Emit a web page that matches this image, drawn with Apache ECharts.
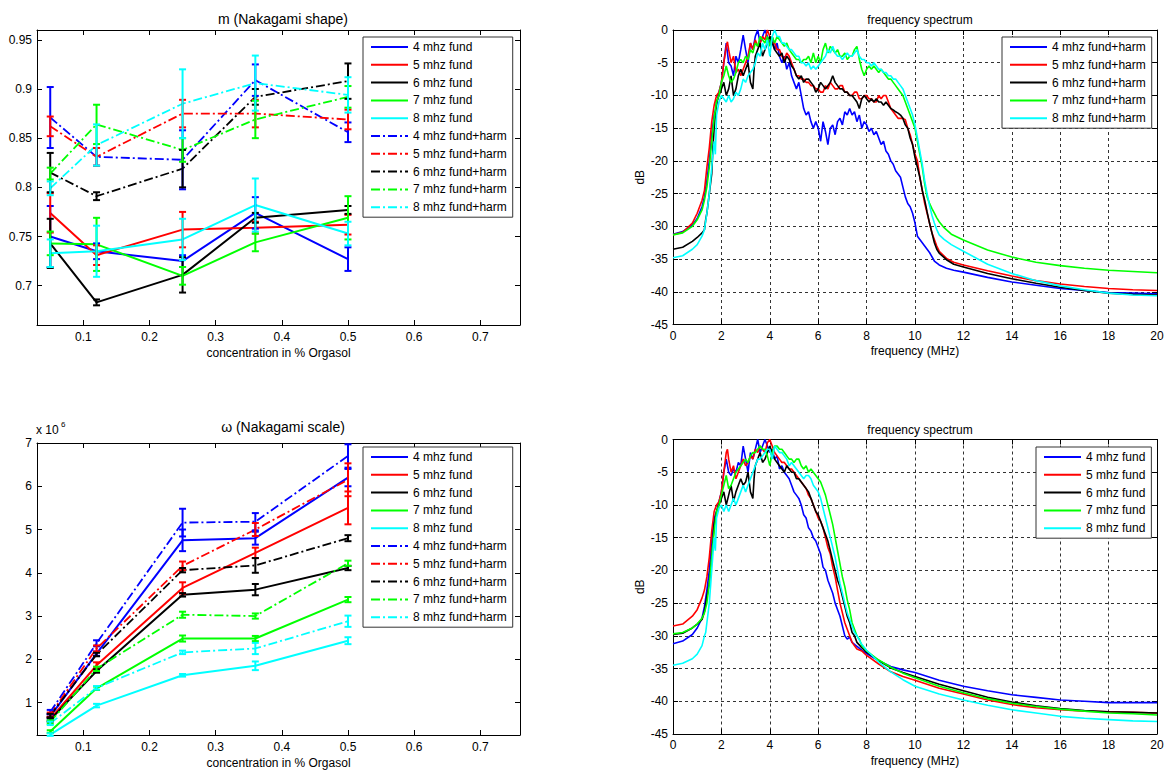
<!DOCTYPE html>
<html><head><meta charset="utf-8">
<script src="https://cdn.jsdelivr.net/npm/echarts@6/dist/echarts.min.js"></script>
<style>html,body{margin:0;padding:0;background:#fff}#c{width:1166px;height:770px}</style>
</head><body><div id="c"></div>
<script>
// ---------- DATA ----------
const conc = [0.05, 0.12, 0.25, 0.36, 0.5];
const concTicks = [0.1, 0.2, 0.3, 0.4, 0.5, 0.6, 0.7];
const mTicks = [0.7, 0.75, 0.8, 0.85, 0.9, 0.95];
const wTicks = [1, 2, 3, 4, 5, 6, 7];
const fundNames = ['4 mhz fund', '5 mhz fund', '6 mhz fund', '7 mhz fund', '8 mhz fund'];
const fhNames = ['4 mhz fund+harm', '5 mhz fund+harm', '6 mhz fund+harm', '7 mhz fund+harm', '8 mhz fund+harm'];

// m (Nakagami shape) values and error half-widths
const m4F = [0.750, 0.735, 0.725, 0.774, 0.727];  const m4FErr = [0.031, 0.008, 0.006, 0.016, 0.012];
const m5F = [0.774, 0.731, 0.757, 0.759, 0.762];  const m5FErr = [0.020, 0.010, 0.018, 0.006, 0.010];
const m6F = [0.743, 0.683, 0.711, 0.769, 0.777];  const m6FErr = [0.025, 0.003, 0.018, 0.005, 0.004];
const m7F = [0.743, 0.742, 0.710, 0.744, 0.769];  const m7FErr = [0.012, 0.027, 0.009, 0.009, 0.022];
const m8F = [0.733, 0.735, 0.747, 0.782, 0.753];  const m8FErr = [0.014, 0.026, 0.021, 0.027, 0.012];
const m4FH = [0.871, 0.831, 0.828, 0.909, 0.856]; const m4FHErr = [0.031, 0.009, 0.030, 0.016, 0.010];
const m5FH = [0.862, 0.831, 0.875, 0.875, 0.869]; const m5FHErr = [0.010, 0.009, 0.014, 0.014, 0.010];
const m6FH = [0.815, 0.791, 0.819, 0.892, 0.908]; const m6FHErr = [0.020, 0.004, 0.019, 0.008, 0.018];
const m7FH = [0.814, 0.864, 0.838, 0.869, 0.892]; const m7FHErr = [0.006, 0.020, 0.012, 0.019, 0.011];
const m8FH = [0.799, 0.843, 0.885, 0.906, 0.894]; const m8FHErr = [0.007, 0.021, 0.035, 0.028, 0.018];

// omega (Nakagami scale), x 10^6
const w4F = [0.68, 2.13, 4.75, 4.80, 6.20];  const w4FErr = [0.05, 0.05, 0.25, 0.15, 0.20];
const w5F = [0.62, 1.86, 3.65, 4.46, 5.50];  const w5FErr = [0.05, 0.07, 0.13, 0.12, 0.38];
const w6F = [0.60, 1.73, 3.49, 3.61, 4.11];  const w6FErr = [0.04, 0.04, 0.04, 0.13, 0.05];
const w7F = [0.33, 1.33, 2.48, 2.48, 3.38];  const w7FErr = [0.03, 0.04, 0.07, 0.06, 0.06];
const w8F = [0.26, 0.93, 1.63, 1.85, 2.43];  const w8FErr = [0.03, 0.04, 0.03, 0.10, 0.08];
const w4FH = [0.78, 2.37, 5.16, 5.18, 6.70]; const w4FHErr = [0.05, 0.07, 0.32, 0.20, 0.27];
const w5FH = [0.72, 2.25, 4.16, 5.00, 6.15]; const w5FHErr = [0.05, 0.07, 0.10, 0.15, 0.38];
const w6FH = [0.70, 2.11, 4.06, 4.17, 4.80]; const w6FHErr = [0.04, 0.04, 0.05, 0.17, 0.07];
const w7FH = [0.55, 1.78, 3.03, 3.00, 4.22]; const w7FHErr = [0.04, 0.05, 0.07, 0.06, 0.06];
const w8FH = [0.52, 1.34, 2.16, 2.25, 2.88]; const w8FHErr = [0.04, 0.04, 0.04, 0.13, 0.13];

// frequency spectra [MHz, dB] - fund+harm
const spec4FH = [[0,-31.2],[0.4,-30.8],[0.8,-29.8],[1.0,-28.8],[1.2,-27],[1.3,-25.5],[1.4,-23],[1.5,-20],[1.6,-16],[1.7,-13],[1.8,-11.5],[1.9,-9.5],[2.0,-8],[2.1,-5],[2.2,-2],[2.25,-3.5],[2.3,-5],[2.4,-5.5],[2.5,-7],[2.6,-4],[2.7,-5],[2.8,-3],[2.9,-0.8],[3.0,-3],[3.1,-5],[3.2,-2],[3.3,-3],[3.4,-1],[3.5,0],[3.6,-2],[3.7,-1],[3.8,0],[3.9,-1],[4.0,-2],[4.1,-1],[4.2,-3],[4.3,-2],[4.4,-4],[4.5,-5],[4.6,-4],[4.7,-6],[4.8,-5],[4.9,-7],[5.0,-8],[5.1,-9],[5.2,-8],[5.3,-10],[5.4,-12],[5.5,-13],[5.6,-12.5],[5.7,-14],[5.8,-15],[5.9,-14],[6.0,-15],[6.1,-17],[6.2,-14],[6.3,-15.5],[6.4,-17.5],[6.5,-15],[6.6,-14.5],[6.7,-16],[6.8,-14],[6.9,-13.5],[7.0,-14.5],[7.1,-12.5],[7.2,-13],[7.3,-12],[7.4,-13],[7.5,-12.5],[7.6,-14],[7.7,-13],[7.8,-15],[7.9,-14],[8.0,-14.5],[8.1,-15.5],[8.2,-15],[8.3,-16],[8.4,-15.5],[8.5,-16.5],[8.6,-17.5],[8.7,-17],[8.8,-18.5],[8.9,-19],[9.0,-20],[9.1,-20.5],[9.2,-21.5],[9.3,-22],[9.4,-22.5],[9.5,-24],[9.6,-25.5],[9.7,-26.5],[9.8,-27],[9.9,-28],[10.0,-29.5],[10.1,-31.5],[10.2,-32],[10.4,-33],[10.6,-34],[10.8,-35.3],[11.0,-35.9],[11.3,-36.4],[11.6,-36.7],[12,-37],[13,-37.8],[14,-38.5],[15,-39],[16,-39.5],[17,-39.8],[18,-40.1],[19,-40.2],[20,-40.3]];
const spec5FH = [[0,-31.3],[0.4,-30.9],[0.8,-29.5],[1.0,-28],[1.2,-26],[1.3,-24.5],[1.4,-21],[1.5,-18],[1.6,-14],[1.7,-11.5],[1.8,-10],[1.9,-9.5],[2.0,-8],[2.1,-5],[2.2,-2.5],[2.25,-1.8],[2.3,-3],[2.4,-5],[2.5,-4],[2.6,-6.5],[2.7,-6],[2.8,-7],[2.9,-6],[3.0,-5],[3.1,-4],[3.2,-2],[3.3,-3],[3.4,-1.5],[3.5,-2.5],[3.6,-2],[3.7,-1],[3.8,-1.5],[3.9,0],[4.0,-1],[4.1,-2],[4.2,-2],[4.3,-3],[4.4,-3],[4.5,-4],[4.6,-4.5],[4.7,-3.5],[4.8,-4],[4.9,-5],[5.0,-6],[5.1,-7],[5.2,-7],[5.3,-7.5],[5.4,-7.5],[5.5,-8],[5.6,-8],[5.7,-8.5],[5.8,-8.5],[5.9,-9],[6.0,-9],[6.1,-9.5],[6.2,-9.5],[6.3,-8.5],[6.4,-9],[6.5,-8],[6.6,-8.5],[6.7,-9],[6.8,-9],[6.9,-8.5],[7.0,-8.5],[7.1,-9.5],[7.2,-9.5],[7.3,-10],[7.4,-10],[7.5,-9.5],[7.6,-9.5],[7.7,-10.5],[7.8,-10.5],[7.9,-10],[8.0,-10],[8.1,-10.5],[8.2,-10.5],[8.3,-11],[8.4,-11],[8.5,-10],[8.6,-10.5],[8.7,-10],[8.8,-10],[8.9,-11],[9.0,-12],[9.1,-12.5],[9.2,-13],[9.3,-13.5],[9.4,-13.5],[9.5,-13.5],[9.6,-13.7],[9.7,-15],[9.8,-16],[9.9,-17.5],[10.0,-19],[10.1,-20],[10.2,-22.5],[10.3,-24.5],[10.4,-26.5],[10.5,-28],[10.6,-29.5],[10.7,-31],[10.8,-32],[10.9,-33],[11.0,-33.8],[11.3,-34.9],[11.6,-35.5],[12,-35.9],[13,-36.8],[14,-37.6],[15,-38.3],[16,-38.8],[17,-39.2],[18,-39.5],[19,-39.7],[20,-39.8]];
const spec6FH = [[0,-33.5],[0.4,-33.2],[0.8,-32.3],[1.0,-31.7],[1.2,-31],[1.3,-30.5],[1.35,-29],[1.4,-28],[1.5,-25],[1.6,-22],[1.65,-18],[1.7,-15],[1.8,-11],[1.9,-10],[2.0,-9],[2.1,-8],[2.2,-10],[2.3,-9],[2.4,-7],[2.5,-10],[2.6,-9],[2.7,-7],[2.8,-6],[2.9,-7],[3.0,-6],[3.1,-5],[3.2,-8],[3.3,-9],[3.35,-6],[3.4,-4],[3.5,-3],[3.6,-2],[3.7,-4],[3.8,-3],[3.9,-2],[4.0,-1],[4.1,-2],[4.2,-3],[4.3,-3.5],[4.4,-4],[4.5,-3.5],[4.6,-5],[4.7,-4],[4.8,-4.5],[4.9,-5.5],[5.0,-6],[5.1,-7],[5.2,-7.5],[5.3,-7],[5.4,-8],[5.5,-7.5],[5.6,-7.5],[5.7,-8],[5.8,-8.5],[5.9,-9.5],[6.0,-9],[6.1,-8],[6.2,-8.5],[6.3,-9],[6.4,-8.5],[6.5,-8],[6.6,-7],[6.7,-8],[6.8,-8.5],[6.9,-9],[7.0,-9],[7.1,-9.5],[7.2,-9.5],[7.3,-10],[7.4,-10],[7.5,-10.5],[7.6,-11],[7.7,-12],[7.8,-10.5],[7.9,-10],[8.0,-10.5],[8.1,-11],[8.2,-10.5],[8.3,-11],[8.4,-10.5],[8.5,-11],[8.6,-11],[8.7,-11.5],[8.8,-11],[8.9,-11.5],[9.0,-12],[9.1,-12.2],[9.2,-12.5],[9.3,-12.7],[9.4,-13],[9.5,-13.5],[9.6,-14.5],[9.7,-15],[9.8,-16.5],[9.9,-17.5],[10.0,-19.5],[10.1,-21],[10.2,-22.5],[10.3,-24.5],[10.4,-26],[10.5,-27.8],[10.6,-29.5],[10.7,-31],[10.8,-32.5],[10.9,-33.5],[11.0,-34.1],[11.3,-35.1],[11.6,-35.8],[12,-36.2],[13,-37.2],[14,-38],[15,-38.7],[16,-39.3],[17,-39.8],[18,-40.2],[19,-40.4],[20,-40.5]];
const spec7FH = [[0,-31.3],[0.4,-31],[0.8,-30],[1.0,-29],[1.2,-27.5],[1.3,-26],[1.4,-24],[1.5,-21],[1.6,-17],[1.7,-13.5],[1.8,-11],[1.9,-10],[2.0,-8],[2.1,-7],[2.2,-5.5],[2.3,-7],[2.4,-8],[2.5,-7.5],[2.6,-6.5],[2.7,-5],[2.8,-4.5],[2.9,-5],[3.0,-4],[3.1,-4.5],[3.2,-3],[3.3,-3.5],[3.4,-2],[3.5,-2.5],[3.6,-1],[3.7,-1.5],[3.8,-2],[3.9,-1],[4.0,-2.5],[4.1,-1],[4.2,-2],[4.3,-1],[4.4,-1.5],[4.5,-2],[4.6,-2.5],[4.7,-2],[4.8,-3],[4.9,-3.5],[5.0,-4],[5.1,-4.5],[5.2,-4.5],[5.3,-5],[5.4,-4.5],[5.5,-4.5],[5.6,-4],[5.7,-5],[5.8,-3.5],[5.9,-5],[6.0,-4],[6.1,-5],[6.2,-3],[6.3,-2],[6.4,-3.5],[6.5,-2.5],[6.6,-3],[6.7,-3.5],[6.8,-3],[6.9,-4],[7.0,-4],[7.1,-3.5],[7.2,-4.5],[7.3,-4],[7.4,-4],[7.5,-3],[7.6,-2.5],[7.7,-4.5],[7.8,-6],[7.9,-7],[8.0,-6],[8.1,-5.5],[8.2,-6],[8.3,-5.5],[8.4,-6],[8.5,-6.5],[8.6,-6],[8.7,-6.5],[8.8,-7],[8.9,-7.5],[9.0,-7.5],[9.1,-8],[9.2,-8.5],[9.3,-9],[9.4,-9.5],[9.5,-10],[9.6,-11],[9.7,-12],[9.8,-13],[9.9,-14],[10.0,-15],[10.1,-17],[10.2,-19],[10.3,-21],[10.4,-23.5],[10.5,-25.5],[10.6,-26.5],[10.7,-27.3],[10.8,-28],[10.9,-28.7],[11.0,-29.3],[11.2,-30.2],[11.5,-31.2],[12,-32.1],[13,-33.6],[14,-34.7],[15,-35.5],[16,-36],[17,-36.4],[18,-36.7],[19,-36.9],[20,-37.1]];
const spec8FH = [[0,-34.8],[0.4,-34.5],[0.8,-33.5],[1.0,-32.8],[1.2,-31.5],[1.3,-30.5],[1.4,-28],[1.5,-25],[1.6,-21],[1.7,-17],[1.75,-19],[1.8,-13],[1.9,-11],[2.0,-10],[2.1,-10.5],[2.2,-11],[2.3,-10],[2.4,-11],[2.5,-10.5],[2.6,-9.5],[2.7,-10],[2.8,-9],[2.9,-7.5],[3.0,-8],[3.1,-7],[3.2,-6.5],[3.3,-6],[3.4,-5],[3.5,-3.5],[3.6,-4],[3.7,-2],[3.8,-3],[3.9,-1.5],[4.0,-4],[4.1,-1],[4.2,0],[4.3,-1],[4.4,-1],[4.5,-2],[4.6,-2],[4.7,-2.5],[4.8,-3],[4.9,-3],[5.0,-3.5],[5.1,-4],[5.2,-4],[5.3,-5],[5.4,-5],[5.5,-5.5],[5.6,-5],[5.7,-6],[5.8,-5.5],[5.9,-6],[6.0,-5.5],[6.1,-5],[6.2,-4.5],[6.3,-4],[6.4,-3],[6.5,-3.5],[6.6,-2.5],[6.7,-3.5],[6.8,-4],[6.9,-4],[7.0,-4.5],[7.1,-4],[7.2,-3.5],[7.3,-4],[7.4,-4],[7.5,-3.5],[7.6,-3],[7.7,-4],[7.8,-4.5],[7.9,-4.5],[8.0,-5],[8.1,-5],[8.2,-5.5],[8.3,-5],[8.4,-5.5],[8.5,-6],[8.6,-6],[8.7,-6.5],[8.8,-6.5],[8.9,-7],[9.0,-7],[9.1,-7.5],[9.2,-7.5],[9.3,-8],[9.4,-8.5],[9.5,-9],[9.6,-10],[9.7,-11],[9.8,-12],[9.9,-13],[10.0,-14.5],[10.1,-16.5],[10.2,-18.5],[10.3,-20.5],[10.4,-23],[10.5,-25],[10.6,-26.8],[10.7,-28.3],[10.8,-29.5],[10.9,-30.5],[11.0,-31.3],[11.2,-32],[11.5,-32.8],[12,-33.8],[13,-35.8],[14,-37.2],[15,-38.3],[16,-39.1],[17,-39.7],[18,-40.2],[19,-40.5],[20,-40.6]];

// frequency spectra [MHz, dB] - fund
const spec4F = [[0,-31.2],[0.4,-30.8],[0.8,-29.8],[1.0,-28.8],[1.2,-27.3],[1.3,-25.5],[1.4,-23],[1.5,-20],[1.6,-15],[1.7,-12],[1.8,-11],[1.9,-9.5],[2.0,-8],[2.1,-5],[2.2,-3],[2.3,-5],[2.4,-5.5],[2.5,-4.5],[2.6,-5],[2.7,-3.5],[2.8,-4],[2.9,-1],[3.0,-3],[3.1,-5],[3.2,-2],[3.3,-3],[3.4,-1.5],[3.5,0],[3.6,-2],[3.7,-1],[3.8,0],[3.9,-1],[4.0,-2],[4.1,-1.5],[4.2,-3],[4.3,-2.5],[4.4,-4.5],[4.5,-4],[4.6,-5],[4.7,-5.5],[4.8,-6],[4.9,-7],[5.0,-8],[5.1,-8.5],[5.2,-9],[5.3,-10],[5.4,-11.5],[5.5,-12],[5.6,-13.5],[5.7,-14],[5.8,-15],[5.9,-15.5],[6.0,-16.5],[6.1,-17.5],[6.2,-19.5],[6.3,-20],[6.4,-21.5],[6.5,-22.5],[6.6,-23.5],[6.7,-25],[6.8,-26],[6.9,-27],[7.0,-28.5],[7.1,-30],[7.2,-30.5],[7.3,-30.2],[7.4,-31],[7.5,-31.3],[7.6,-31.6],[7.8,-32.2],[8.0,-32.7],[8.5,-33.8],[9,-34.7],[9.5,-35.2],[10,-35.6],[11,-36.8],[12,-37.7],[13,-38.4],[14,-39],[15,-39.4],[16,-39.8],[17,-40],[18,-40.2],[19,-40.2],[20,-40.2]];
const spec5F = [[0,-28.5],[0.4,-28.2],[0.8,-27],[1.0,-26],[1.2,-24.2],[1.3,-23],[1.4,-21],[1.5,-18],[1.6,-14],[1.7,-11],[1.8,-10],[1.9,-9.5],[2.0,-8],[2.1,-5],[2.2,-2],[2.25,-1.5],[2.3,-3],[2.4,-5],[2.5,-4],[2.6,-6],[2.7,-5],[2.8,-4],[2.9,-3],[3.0,-4],[3.1,-3.5],[3.2,-2.5],[3.3,-3],[3.4,-1.5],[3.5,-2],[3.6,-1],[3.7,-1.5],[3.8,-2],[3.9,-0.5],[4.0,0],[4.1,-1],[4.2,-2],[4.3,-2.5],[4.4,-3],[4.5,-3.5],[4.6,-3.5],[4.7,-4],[4.8,-4.5],[4.9,-4.5],[5.0,-5],[5.1,-5.5],[5.2,-6],[5.3,-6.5],[5.4,-7],[5.5,-7.5],[5.6,-8.5],[5.7,-9],[5.8,-10],[5.9,-11],[6.0,-12],[6.1,-12.5],[6.2,-13.5],[6.3,-15],[6.4,-16.5],[6.5,-17.5],[6.6,-19.5],[6.7,-21],[6.8,-23],[6.9,-25],[7.0,-26.5],[7.1,-28],[7.2,-29],[7.3,-30],[7.4,-31],[7.5,-31.5],[7.6,-32],[7.8,-32.3],[8.0,-33],[8.5,-34.3],[9,-35.5],[9.5,-36.2],[10,-36.8],[11,-38],[12,-38.9],[13,-39.8],[14,-40.5],[15,-41],[16,-41.3],[17,-41.5],[18,-41.6],[19,-41.7],[20,-41.8]];
const spec6F = [[0,-29.8],[0.4,-29.6],[0.8,-28.8],[1.0,-28.2],[1.2,-27.5],[1.3,-26.3],[1.4,-24],[1.5,-22],[1.6,-18],[1.7,-13],[1.8,-11],[1.9,-10],[2.0,-9],[2.1,-8],[2.2,-10],[2.3,-8.5],[2.4,-7],[2.5,-9.5],[2.6,-8],[2.7,-7],[2.8,-6],[2.9,-7],[3.0,-6.5],[3.1,-5],[3.2,-8],[3.3,-9],[3.35,-6],[3.4,-4],[3.5,-3],[3.6,-2],[3.7,-3.5],[3.8,-3],[3.9,-2],[4.0,-1],[4.1,-2],[4.2,-3],[4.3,-3.5],[4.4,-4],[4.5,-4.5],[4.6,-5],[4.7,-4],[4.8,-4.5],[4.9,-5],[5.0,-5],[5.1,-6],[5.2,-6],[5.3,-6.5],[5.4,-7],[5.5,-7.5],[5.6,-8],[5.7,-9],[5.8,-10],[5.9,-11],[6.0,-11.5],[6.1,-12.5],[6.2,-13.5],[6.3,-14.5],[6.4,-15.5],[6.5,-17],[6.6,-18.5],[6.7,-20],[6.8,-21.5],[6.9,-22.5],[7.0,-24],[7.1,-25.5],[7.2,-27],[7.3,-28],[7.4,-29.5],[7.5,-30],[7.6,-31],[7.8,-31.8],[8.0,-32.5],[8.5,-33.8],[9,-34.9],[9.5,-35.6],[10,-36.2],[11,-37.4],[12,-38.4],[13,-39.4],[14,-40.1],[15,-40.7],[16,-41.1],[17,-41.4],[18,-41.6],[19,-41.7],[20,-41.8]];
const spec7F = [[0,-29.7],[0.4,-29.5],[0.8,-28.8],[1.0,-28.2],[1.2,-27.3],[1.3,-26.5],[1.4,-25],[1.5,-22],[1.6,-18],[1.7,-14],[1.8,-11],[1.9,-10],[2.0,-8.5],[2.1,-7],[2.2,-5.5],[2.3,-7.5],[2.4,-7],[2.5,-6],[2.6,-5],[2.7,-4.5],[2.8,-4],[2.9,-3.5],[3.0,-3],[3.1,-3.5],[3.2,-2.5],[3.3,-2],[3.4,-2],[3.5,-1.5],[3.6,-1],[3.7,-1.5],[3.8,-1.5],[3.9,-2.5],[4.0,-4],[4.1,-2],[4.2,-1],[4.3,-1],[4.4,-1.5],[4.5,-1.5],[4.6,-2],[4.7,-2.5],[4.8,-3],[4.9,-3],[5.0,-3.5],[5.1,-3],[5.2,-3],[5.3,-4],[5.4,-4.5],[5.5,-4],[5.6,-5],[5.7,-4.5],[5.8,-5],[5.9,-5.5],[6.0,-6],[6.1,-6.5],[6.2,-7.5],[6.3,-8.5],[6.4,-10],[6.5,-11.5],[6.6,-13],[6.7,-15],[6.8,-17],[6.9,-19],[7.0,-21],[7.1,-22.5],[7.2,-24.5],[7.3,-26],[7.4,-28],[7.5,-29],[7.6,-30],[7.7,-30.5],[7.8,-31.5],[8.0,-32.3],[8.5,-33.7],[9,-34.8],[9.5,-35.7],[10,-36.4],[11,-37.7],[12,-38.7],[13,-39.6],[14,-40.3],[15,-40.8],[16,-41.2],[17,-41.5],[18,-41.8],[19,-41.9],[20,-42.1]];
const spec8F = [[0,-34.5],[0.4,-34.2],[0.8,-33.5],[1.0,-32.8],[1.2,-31.5],[1.3,-30],[1.35,-29.5],[1.4,-28],[1.5,-25],[1.6,-20],[1.7,-15],[1.75,-17],[1.8,-12],[1.9,-10.5],[2.0,-10],[2.1,-11],[2.2,-10],[2.3,-11],[2.4,-10],[2.5,-9],[2.6,-10],[2.7,-9],[2.8,-8],[2.9,-7],[3.0,-8],[3.1,-7],[3.2,-6],[3.3,-5],[3.4,-4],[3.5,-3],[3.6,-3],[3.7,-2.5],[3.8,-2],[3.9,-1.5],[4.0,-1.5],[4.1,-3],[4.2,-1],[4.3,-1.5],[4.4,-2],[4.5,-2],[4.6,-2.5],[4.7,-3],[4.8,-4],[4.9,-3.5],[5.0,-4],[5.1,-4.5],[5.2,-5],[5.3,-5.5],[5.4,-6],[5.5,-5.5],[5.6,-5.5],[5.7,-6],[5.8,-7],[5.9,-7.5],[6.0,-8],[6.1,-9],[6.2,-10.5],[6.3,-12],[6.4,-13.5],[6.5,-15],[6.6,-16.5],[6.7,-18],[6.8,-20],[6.9,-22],[7.0,-23.5],[7.1,-25],[7.2,-26.5],[7.3,-27.5],[7.4,-28.5],[7.5,-29.5],[7.6,-30],[7.8,-31.3],[8.0,-32.2],[8.5,-34],[9,-35.5],[9.5,-36.7],[10,-37.7],[11,-38.9],[12,-39.8],[13,-40.6],[14,-41.3],[15,-41.8],[16,-42.3],[17,-42.6],[18,-42.8],[19,-43],[20,-43.1]];

// ---------- CHART ----------
const FF = '"Liberation Sans", Arial, sans-serif';
const COLORS = ['#0000ff', '#ff0000', '#000000', '#00ff00', '#00ffff'];
const DASHDOT = [9, 3, 2, 3];

const mFund = [m4F, m5F, m6F, m7F, m8F], mFundErr = [m4FErr, m5FErr, m6FErr, m7FErr, m8FErr];
const mFH = [m4FH, m5FH, m6FH, m7FH, m8FH], mFHErr = [m4FHErr, m5FHErr, m6FHErr, m7FHErr, m8FHErr];
const wFund = [w4F, w5F, w6F, w7F, w8F], wFundErr = [w4FErr, w5FErr, w6FErr, w7FErr, w8FErr];
const wFH = [w4FH, w5FH, w6FH, w7FH, w8FH], wFHErr = [w4FHErr, w5FHErr, w6FHErr, w7FHErr, w8FHErr];
const specFH = [spec4FH, spec5FH, spec6FH, spec7FH, spec8FH];
const specF = [spec4F, spec5F, spec6F, spec7F, spec8F];

function errRender(color) {
  return function (params, api) {
    const x = api.value(0), y = api.value(1), e = api.value(2);
    const p1 = api.coord([x, y + e]), p2 = api.coord([x, y - e]);
    const w = 3.5;
    const st = () => ({ stroke: color, lineWidth: 2 });
    return { type: 'group', children: [
      { type: 'line', shape: { x1: p1[0], y1: p1[1], x2: p2[0], y2: p2[1] }, style: st() },
      { type: 'line', shape: { x1: p1[0] - w, y1: p1[1], x2: p1[0] + w, y2: p1[1] }, style: st() },
      { type: 'line', shape: { x1: p2[0] - w, y1: p2[1], x2: p2[0] + w, y2: p2[1] }, style: st() }
    ]};
  };
}

const series = [];
function addErrGroup(prefix, gi, vals, errs, names, dashed) {
  for (let i = 0; i < 5; i++) {
    series.push({
      type: 'line', name: prefix + '|' + names[i], xAxisIndex: 2 * gi, yAxisIndex: 2 * gi,
      data: conc.map((x, j) => [x, vals[i][j]]), symbol: 'none', silent: true,
      lineStyle: { color: COLORS[i], width: dashed ? 1.8 : 2, type: dashed ? DASHDOT : 'solid' },
      itemStyle: { color: COLORS[i] }, z: 2
    });
    series.push({
      type: 'custom', name: prefix + '|eb|' + names[i], xAxisIndex: 2 * gi, yAxisIndex: 2 * gi,
      data: conc.map((x, j) => [x, vals[i][j], errs[i][j]]), encode: { x: 0, y: 1 },
      renderItem: errRender(COLORS[i]), silent: true, z: 3
    });
  }
}
addErrGroup('m', 0, mFund, mFundErr, fundNames, false);
addErrGroup('m', 0, mFH, mFHErr, fhNames, true);
addErrGroup('w', 1, wFund, wFundErr, fundNames, false);
addErrGroup('w', 1, wFH, wFHErr, fhNames, true);
for (let i = 0; i < 5; i++) {
  series.push({ type: 'line', name: 'tr|' + fhNames[i], xAxisIndex: 4, yAxisIndex: 4, data: specFH[i],
    symbol: 'none', silent: true, lineStyle: { color: COLORS[i], width: 1.6 }, itemStyle: { color: COLORS[i] } });
}
for (let i = 0; i < 5; i++) {
  series.push({ type: 'line', name: 'br|' + fundNames[i], xAxisIndex: 6, yAxisIndex: 6, data: specF[i],
    symbol: 'none', silent: true, lineStyle: { color: COLORS[i], width: 1.6 }, itemStyle: { color: COLORS[i] } });
}

const txt = { color: '#000', fontSize: 12, fontFamily: FF };
const axLine = { show: true, onZero: false, lineStyle: { color: '#000', width: 1 } };
function tickCfg(custom) { const t = { show: true, inside: true, length: 5, lineStyle: { color: '#000' } }; if (custom) t.customValues = custom; return t; }

function concX(gi, nameGap) {
  return [
    { type: 'value', gridIndex: gi, min: 0.03, max: 0.76, position: 'bottom', axisLine: axLine,
      axisTick: tickCfg(concTicks), axisLabel: Object.assign({ customValues: concTicks, margin: 6, formatter: v => String(Math.round(v * 10) / 10) }, txt),
      splitLine: { show: false }, name: 'concentration in % Orgasol', nameLocation: 'middle', nameGap: nameGap, nameTextStyle: txt },
    { type: 'value', gridIndex: gi, min: 0.03, max: 0.76, position: 'top', axisLine: axLine,
      axisTick: tickCfg(concTicks), axisLabel: { show: false }, splitLine: { show: false } }
  ];
}
function valY(gi, min, max, ticks, fmt) {
  return [
    { type: 'value', gridIndex: gi, min: min, max: max, position: 'left', axisLine: axLine,
      axisTick: tickCfg(ticks), axisLabel: Object.assign({ customValues: ticks, margin: 5, formatter: fmt }, txt), splitLine: { show: false } },
    { type: 'value', gridIndex: gi, min: min, max: max, position: 'right', axisLine: axLine,
      axisTick: tickCfg(ticks), axisLabel: { show: false }, splitLine: { show: false } }
  ];
}
const gridDash = { show: true, lineStyle: { color: '#333', width: 1, type: [3, 3] } };
function freqX(gi, nameGap) {
  return [
    { type: 'value', gridIndex: gi, min: 0, max: 20, interval: 2, position: 'bottom', axisLine: axLine,
      axisTick: tickCfg(), axisLabel: Object.assign({ margin: 5 }, txt), splitLine: gridDash,
      name: 'frequency (MHz)', nameLocation: 'middle', nameGap: nameGap, nameTextStyle: txt },
    { type: 'value', gridIndex: gi, min: 0, max: 20, interval: 2, position: 'top', axisLine: axLine,
      axisTick: tickCfg(), axisLabel: { show: false }, splitLine: { show: false } }
  ];
}
function dbY(gi) {
  return [
    { type: 'value', gridIndex: gi, min: -45, max: 0, interval: 5, position: 'left', axisLine: axLine,
      axisTick: tickCfg(), axisLabel: Object.assign({ margin: 5 }, txt), splitLine: gridDash,
      name: 'dB', nameLocation: 'middle', nameGap: 27, nameRotate: 90, nameTextStyle: txt },
    { type: 'value', gridIndex: gi, min: -45, max: 0, interval: 5, position: 'right', axisLine: axLine,
      axisTick: tickCfg(), axisLabel: { show: false }, splitLine: { show: false } }
  ];
}

function legend(prefix, names, left, top) {
  return {
    orient: 'vertical', left: left, top: top, data: names.map(n => prefix + '|' + n),
    formatter: n => n.split('|')[1], selectedMode: false,
    itemWidth: 37, itemHeight: 14, itemGap: 5.8, padding: [4, 6, 4, 7],
    itemStyle: { opacity: 0 },
    backgroundColor: '#fff', borderColor: '#333', borderWidth: 1, borderRadius: 0,
    textStyle: txt
  };
}

const option = {
  animation: false,
  backgroundColor: '#fff',
  textStyle: { fontFamily: FF },
  title: [
    { text: 'm (Nakagami shape)', left: 278, top: 7, textAlign: 'center', textStyle: { color: '#000', fontSize: 14, fontWeight: 'normal', fontFamily: FF } },
    { text: 'ω (Nakagami scale)', left: 278, top: 415, textAlign: 'center', textStyle: { color: '#000', fontSize: 14, fontWeight: 'normal', fontFamily: FF } },
    { text: 'frequency spectrum', left: 915, top: 9, textAlign: 'center', textStyle: { color: '#000', fontSize: 12, fontWeight: 'normal', fontFamily: FF } },
    { text: 'frequency spectrum', left: 915, top: 419, textAlign: 'center', textStyle: { color: '#000', fontSize: 12, fontWeight: 'normal', fontFamily: FF } }
  ],
  graphic: [
    { type: 'text', left: 36, top: 424, style: { text: 'x 10', fill: '#000', font: '12px ' + FF } },
    { type: 'text', left: 61, top: 420, style: { text: '6', fill: '#000', font: '8px ' + FF } }
  ],
  grid: [
    { left: 37, top: 30, width: 483, height: 295, containLabel: false, outerBoundsMode: 'none' },
    { left: 37, top: 443, width: 483, height: 292, containLabel: false, outerBoundsMode: 'none' },
    { left: 673, top: 30, width: 484, height: 294.5, containLabel: false, outerBoundsMode: 'none' },
    { left: 673, top: 439.5, width: 484, height: 294.5, containLabel: false, outerBoundsMode: 'none' }
  ],
  xAxis: [].concat(concX(0, 22), concX(1, 22), freqX(2, 20), freqX(3, 21)),
  yAxis: [].concat(
    valY(0, 0.66, 0.96, mTicks, v => String(Math.round(v * 100) / 100)),
    valY(1, 0.25, 7, wTicks, v => String(Math.round(v))),
    dbY(2), dbY(3)),
  legend: [
    legend('m', fundNames.concat(fhNames), 363, 37),
    legend('w', fundNames.concat(fhNames), 363, 447),
    legend('tr', fhNames, 1002, 37),
    legend('br', fundNames, 1036, 447)
  ],
  series: series
};

const chart = echarts.init(document.getElementById('c'), null, { renderer: 'svg' });
chart.setOption(option);
</script>
</body></html>
